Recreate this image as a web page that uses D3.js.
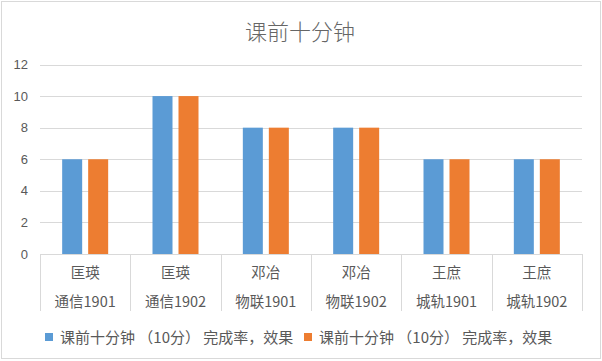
<!DOCTYPE html>
<html>
  <head>
    <meta charset="utf-8">
    <title>课前十分钟</title>
    <script src="https://d3js.org/d3.v7.min.js"></script>
    <style>
      body { margin: 0; background: #fff; }
      svg { display: block; font-family: "Noto Sans CJK SC", "Noto Sans", sans-serif; }
      .axis text { fill: #595959; }
    </style>
  </head>
  <body>
    <svg id="chart" width="602" height="361"></svg>
    <script>
      // data
      var categoriesTop = ["匡瑛", "匡瑛", "邓冶", "邓冶", "王庶", "王庶"];
      var categoriesBottom = ["通信1901", "通信1902", "物联1901", "物联1902", "城轨1901", "城轨1902"];
      var seriesA = [6, 10, 8, 8, 6, 6];
      var seriesB = [6, 10, 8, 8, 6, 6];
      var seriesNames = ["课前十分钟 （10分） 完成率，效果", "课前十分钟 （10分） 完成率，效果"];
      var yTicks = [0, 2, 4, 6, 8, 10, 12];
      var colors = ["#5b9bd5", "#ed7d31"];

      var svg = d3.select("#chart");
      var width = 602, height = 361;

      // outer frame
      svg.append("rect")
        .attr("x", 1.5).attr("y", 1.5)
        .attr("width", width - 3).attr("height", height - 4)
        .attr("fill", "#fff").attr("stroke", "#d9d9d9");

      svg.append("text")
        .attr("x", 300).attr("y", 40)
        .attr("text-anchor", "middle")
        .attr("font-size", 22)
        .attr("font-weight", 300)
        .attr("fill", "#666")
        .text("课前十分钟");

      var x = d3.scaleBand()
        .domain(d3.range(categoriesTop.length))
        .range([40, 582]);
      var y = d3.scaleLinear()
        .domain([0, 12])
        .range([254, 64.5]);

      // gridlines
      svg.append("g")
        .selectAll("line")
        .data(yTicks)
        .enter().append("line")
          .attr("x1", 40).attr("x2", 582)
          .attr("y1", function(d) { return Math.round(y(d)) + 0.5; })
          .attr("y2", function(d) { return Math.round(y(d)) + 0.5; })
          .attr("stroke", "#d9d9d9");

      // y labels
      svg.append("g").attr("class", "axis")
        .selectAll("text")
        .data(yTicks)
        .enter().append("text")
          .attr("x", 28)
          .attr("y", function(d) { return y(d) + 4.5; })
          .attr("text-anchor", "end")
          .attr("font-size", 13)
          .attr("font-family", "Liberation Sans, sans-serif")
          .text(function(d) { return d; });

      // bars
      var barW = 20, gap = 6;
      var bars = svg.append("g");
      [seriesA, seriesB].forEach(function(series, s) {
        bars.selectAll(".bar" + s)
          .data(series)
          .enter().append("rect")
            .attr("class", "bar" + s)
            .attr("x", function(d, i) {
              var c = x(i) + x.bandwidth() / 2;
              return s === 0 ? c - gap / 2 - barW : c + gap / 2;
            })
            .attr("width", barW)
            .attr("y", function(d) { return y(d); })
            .attr("height", function(d) { return y(0) - y(d); })
            .attr("fill", colors[s]);
      });

      // category dividers
      svg.append("g")
        .selectAll("line")
        .data(d3.range(categoriesTop.length + 1))
        .enter().append("line")
          .attr("x1", function(d) { return Math.round(40 + d * x.bandwidth()) + 0.5; })
          .attr("x2", function(d) { return Math.round(40 + d * x.bandwidth()) + 0.5; })
          .attr("y1", 254).attr("y2", 311)
          .attr("stroke", "#d9d9d9");

      var labels = svg.append("g").attr("class", "axis");
      labels.selectAll(".top")
        .data(categoriesTop)
        .enter().append("text")
          .attr("x", function(d, i) { return x(i) + x.bandwidth() / 2; })
          .attr("y", 278)
          .attr("text-anchor", "middle")
          .attr("font-size", 14.5)
          .text(function(d) { return d; });
      labels.selectAll(".bottom")
        .data(categoriesBottom)
        .enter().append("text")
          .attr("x", function(d, i) { return x(i) + x.bandwidth() / 2; })
          .attr("y", 307)
          .attr("text-anchor", "middle")
          .attr("font-size", 14.5)
          .text(function(d) { return d; });

      // legend
      var legendX = [45, 304];
      var legend = svg.append("g").attr("class", "axis");
      seriesNames.forEach(function(name, s) {
        legend.append("rect")
          .attr("x", legendX[s]).attr("y", 333)
          .attr("width", 8).attr("height", 8)
          .attr("fill", colors[s]);
        legend.append("text")
          .attr("x", legendX[s] + 15).attr("y", 343)
          .attr("font-size", 15)
          .text(name);
      });
    </script>
  </body>
</html>
